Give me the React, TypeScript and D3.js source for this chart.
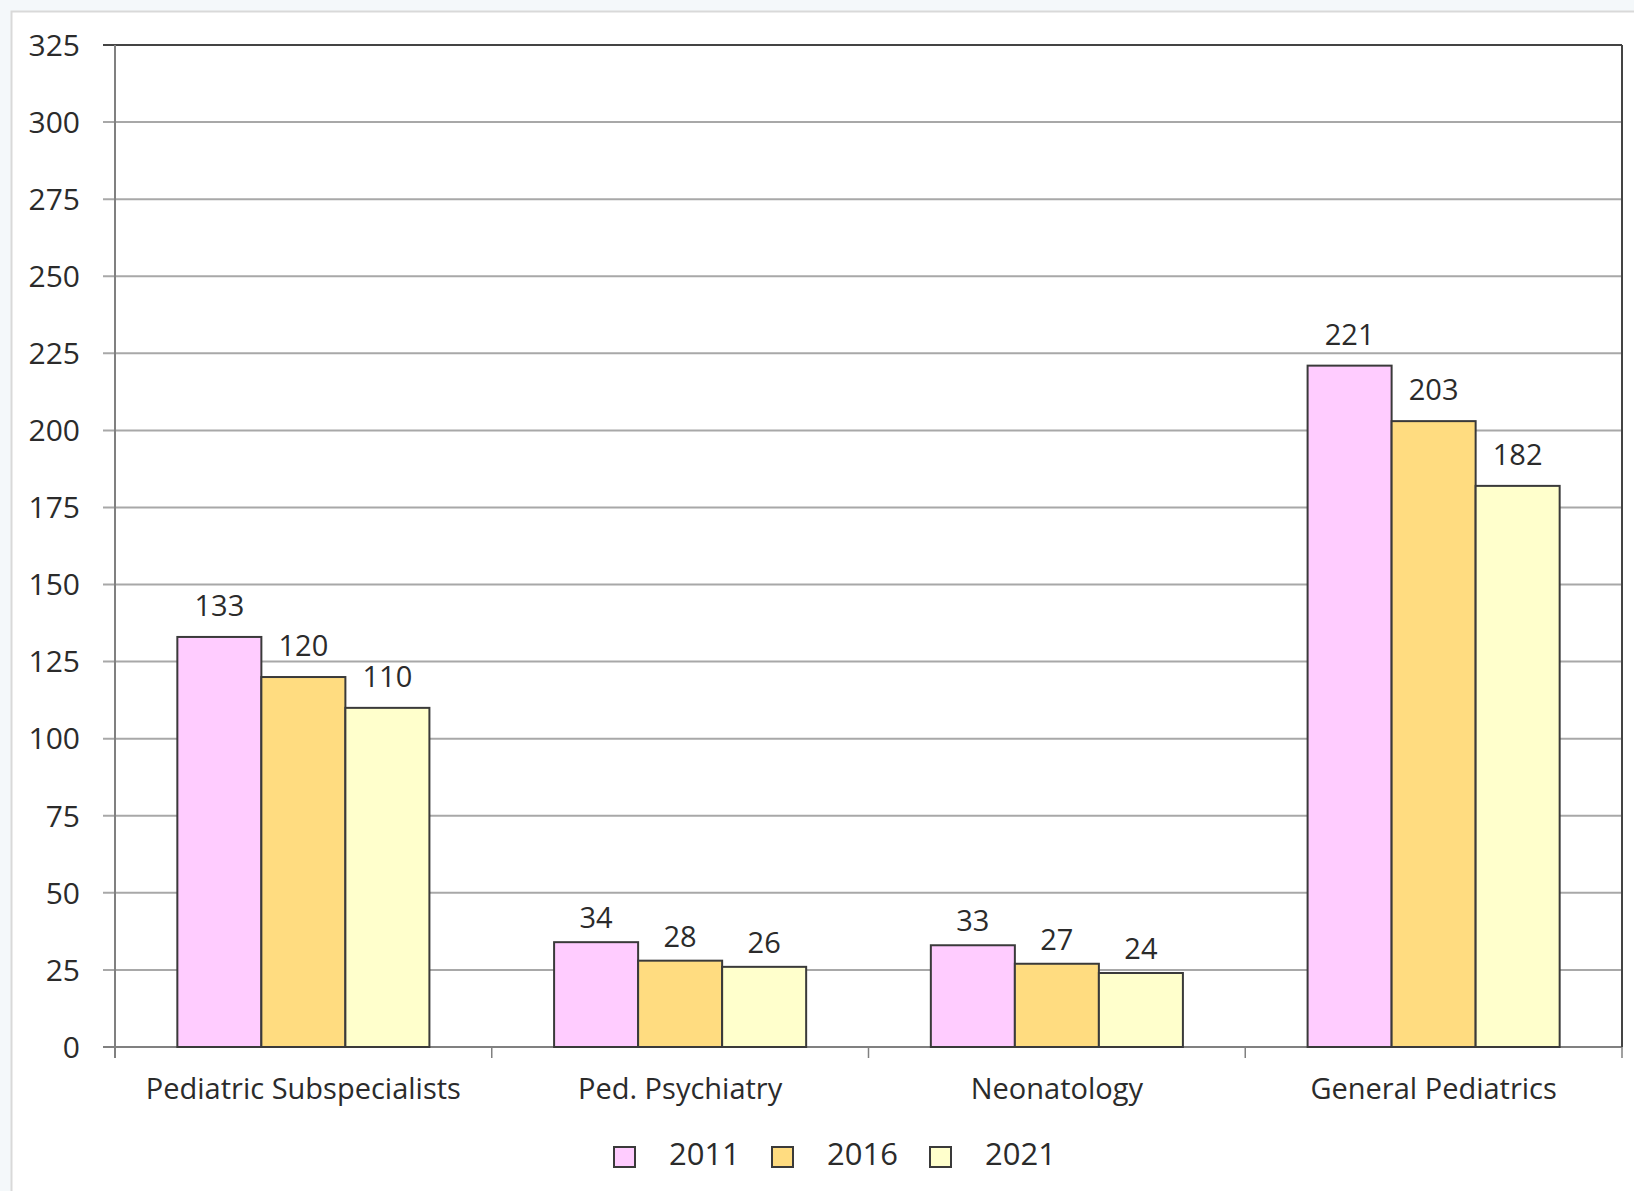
import React from "react";
import * as d3 from "d3";

const categories = ["Pediatric Subspecialists", "Ped. Psychiatry", "Neonatology", "General Pediatrics"];
const seriesNames = ["2011", "2016", "2021"];
const values2011 = [133, 34, 33, 221];
const values2016 = [120, 28, 27, 203];
const values2021 = [110, 26, 24, 182];
const seriesColors = ["#FFCCFF", "#FFDC80", "#FFFFCC"];
const yTicks = [0, 25, 50, 75, 100, 125, 150, 175, 200, 225, 250, 275, 300, 325];

const W = 1634;
const H = 1191;
const left = 115;
const right = 1622;
const top = 45;
const bottom = 1047;
const FONT = "'Open Sans', 'Noto Sans', sans-serif";
const TEXT = "#2b2b2b";

export default function App() {
  const series = [values2011, values2016, values2021];
  const x = d3.scaleBand<string>().domain(categories).range([left, right]).paddingInner(0).paddingOuter(0);
  const x1 = d3
    .scaleBand<string>()
    .domain(seriesNames)
    .range([0, x.bandwidth()])
    .paddingInner(0)
    .paddingOuter(0.742);
  const y = d3.scaleLinear().domain([0, 325]).range([bottom, top]);
  const boundaries = categories.map((c) => x(c) as number).concat([right]);

  const legendX = [614, 772, 930];

  return (
    <svg
      width={W}
      height={H}
      style={{ position: "absolute", left: 0, top: 0 }}
      fontFamily={FONT}
    >
      <rect x={0} y={0} width={W} height={H} fill="#f4f8fa" />
      <rect x={11.5} y={11.5} width={W} height={H} fill="#ffffff" stroke="#d9d9d9" strokeWidth={2} />

      {/* gridlines */}
      {yTicks.map((t) => (
        <line
          key={"g" + t}
          x1={left - 12}
          x2={right}
          y1={y(t)}
          y2={y(t)}
          stroke={t === 325 ? "#444444" : t === 0 ? "#808080" : "#a8a8a8"}
          strokeWidth={2}
        />
      ))}
      {/* y labels */}
      {yTicks.map((t) => (
        <text
          key={"yl" + t}
          x={80}
          y={y(t)}
          dy="0.36em"
          textAnchor="end"
          fontSize={30}
          fill={TEXT}
        >
          {t}
        </text>
      ))}
      {/* axes */}
      <line x1={left} x2={left} y1={top} y2={bottom + 11} stroke="#808080" strokeWidth={2} />
      <line x1={right} x2={right} y1={top} y2={bottom} stroke="#444444" strokeWidth={2} />
      {boundaries.map((b, i) => (
        <line key={"xt" + i} x1={b} x2={b} y1={bottom} y2={bottom + 11} stroke="#808080" strokeWidth={1.5} />
      ))}

      {/* bars */}
      {categories.map((c, ci) => (
        <g key={c} transform={`translate(${x(c)},0)`}>
          {seriesNames.map((s, si) => {
            const v = series[si][ci];
            const bx = x1(s) as number;
            const gap = v < 50 ? 14 : 21;
            return (
              <g key={s}>
                <rect
                  x={bx}
                  y={y(v)}
                  width={x1.bandwidth()}
                  height={bottom - y(v)}
                  fill={seriesColors[si]}
                  stroke="#3a3a3a"
                  strokeWidth={2}
                />
                <text
                  x={bx + x1.bandwidth() / 2}
                  y={y(v) - gap}
                  textAnchor="middle"
                  fontSize={29}
                  fill={TEXT}
                >
                  {v}
                </text>
              </g>
            );
          })}
        </g>
      ))}

      {/* category labels */}
      {categories.map((c) => (
        <text
          key={"cl" + c}
          x={(x(c) as number) + x.bandwidth() / 2}
          y={1099}
          textAnchor="middle"
          fontSize={29}
          fill={TEXT}
        >
          {c}
        </text>
      ))}

      {/* legend */}
      {seriesNames.map((s, i) => (
        <g key={"lg" + s}>
          <rect
            x={legendX[i]}
            y={1147}
            width={21}
            height={20}
            fill={seriesColors[i]}
            stroke="#3a3a3a"
            strokeWidth={2}
          />
          <text x={legendX[i] + 55} y={1165} fontSize={31} fill={TEXT}>
            {s}
          </text>
        </g>
      ))}
    </svg>
  );
}
